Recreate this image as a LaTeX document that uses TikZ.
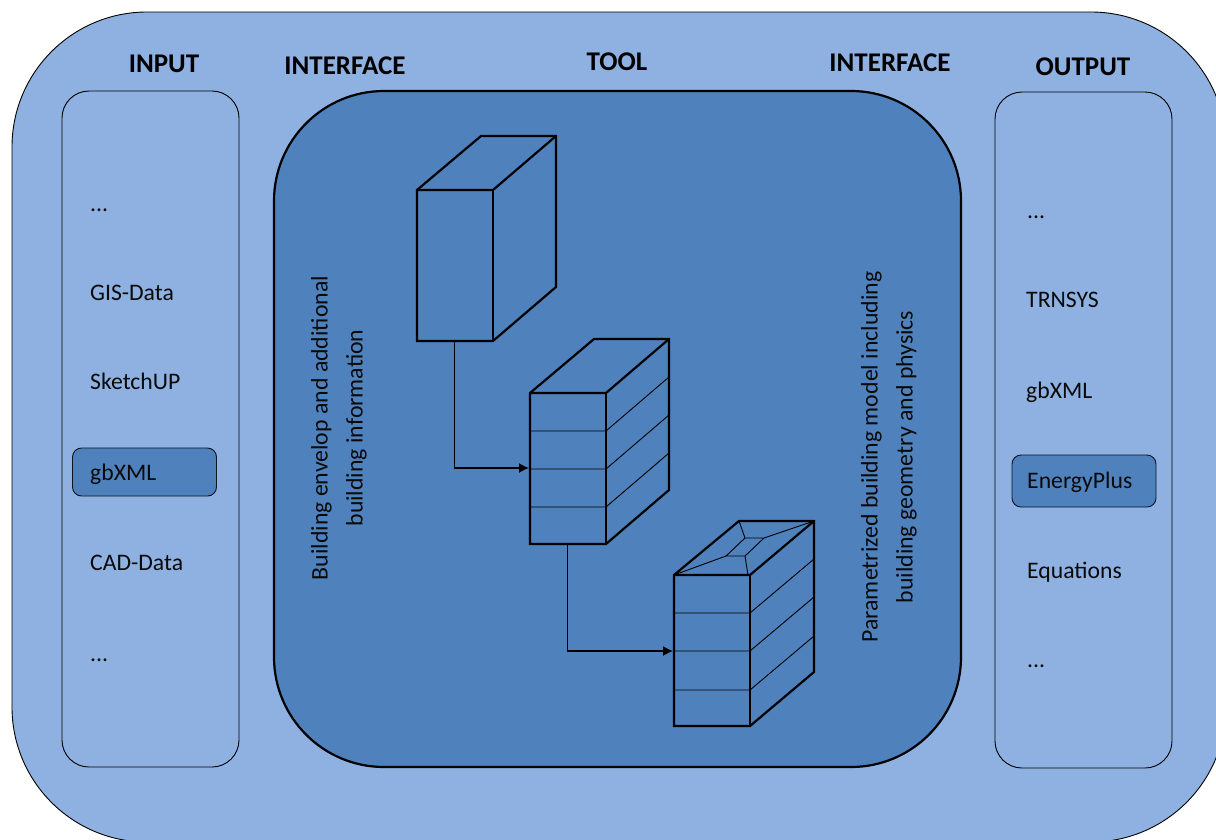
\documentclass[tikz,border=0pt]{standalone}
\usepackage{fontspec}
\setmainfont{Carlito}
\usetikzlibrary{arrows.meta}
\definecolor{lightb}{HTML}{8EB1E1}
\definecolor{darkb}{HTML}{4F81BD}
\definecolor{txtc}{HTML}{0A0A0A}
\newcommand\rrdraw[6]{% style, x0,y0,x1,y1,R
 \draw[#1] ({#2+#6},#3) -- ({#4-#6},#3)
  .. controls ({#4-0.4477*#6},#3) and (#4,{#3+0.4477*#6}) .. (#4,{#3+#6})
  -- (#4,{#5-#6})
  .. controls (#4,{#5-0.4477*#6}) and ({#4-0.4477*#6},#5) .. ({#4-#6},#5)
  -- ({#2+#6},#5)
  .. controls ({#2+0.4477*#6},#5) and (#2,{#5-0.4477*#6}) .. (#2,{#5-#6})
  -- (#2,{#3+#6})
  .. controls (#2,{#3+0.4477*#6}) and ({#2+0.4477*#6},#3) .. ({#2+#6},#3) -- cycle;}
\tikzset{x=1pt,y=-1pt,
 panel/.style={draw=black,line width=0.9pt,fill=lightb},
 toolpanel/.style={draw=black,line width=2.2pt,fill=darkb},
 hl/.style={draw=black!85!darkb,line width=0.9pt,fill=darkb,rounded corners=9pt},
 box/.style={draw=black,line width=2.2pt,fill=darkb,line join=miter},
 edge3d/.style={draw=black,line width=2.2pt,line join=miter},
 thin/.style={draw=black,line width=0.9pt},
 flow/.style={draw=black,line width=1.3pt,-{Latex[length=10pt,width=10pt]}},
 head/.style={font=\fontsize{27}{30}\selectfont\bfseries,inner sep=0pt,text=black},
 item/.style={font=\fontsize{23.7}{28}\selectfont,inner sep=0pt,anchor=west,text=txtc},
 vert/.style={font=\fontsize{23.8}{35}\selectfont,inner sep=0pt,rotate=90,align=center,text=txtc}}
\begin{document}
\begin{tikzpicture}
\useasboundingbox (0,0) rectangle (1216,839);
\fill[white] (0,0) rectangle (1216,839);
\begin{scope}
\clip (0,0) rectangle (1216,839);
\rrdraw{panel}{12}{12}{1226}{842}{135}
\end{scope}
\rrdraw{panel}{62}{91}{239}{767}{27}
\rrdraw{panel}{995}{92}{1172}{768}{27}
\rrdraw{toolpanel}{274}{91}{961}{767}{110}
\node[head] at (164,64) {INPUT};
\node[head] at (345,66) {INTERFACE};
\node[head] at (617,62) {TOOL};
\node[head] at (890,63) {INTERFACE};
\node[head] at (1083,67) {OUTPUT};
\node[item] (i1) at (90,210) {...};
\node[item] (i2) at (90,293) {GIS-Data};
\node[item] (i3) at (90,381) {SketchUP};
\node[hl,minimum width=144pt,minimum height=48pt] (h1) at (144.5,472) {};
\node[item] (i4) at (90,474) {gbXML};
\node[item] (i5) at (90,563) {CAD-Data};
\node[item] (i6) at (90,660) {...};
\node[item] (o1) at (1027,217) {...};
\node[item] (o2) at (1026,300) {TRNSYS};
\node[item] (o3) at (1026,392) {gbXML};
\node[hl,minimum width=144pt,minimum height=52pt] (h2) at (1084,481) {};
\node[item] (o4) at (1027,482) {EnergyPlus};
\node[item] (o5) at (1027,572) {Equations};
\node[item] (o6) at (1027,666) {...};
\node[vert] (v1) at (339,428) {Building envelop and additional\\building information};
\node[vert] (v2) at (889,457) {Parametrized building model including\\building geometry and physics};
% box 1
\draw[box] (417,190) -- (481,136) -- (556,136) -- (556,287) -- (493,341) -- (417,341) -- cycle;
\draw[edge3d] (417,190) -- (493,190) -- (556,136);
\draw[edge3d] (493,190) -- (493,341);
\coordinate (b1out) at (454.5,341);
% box 2
\draw[box] (530,393) -- (594,339) -- (669,339) -- (669,490) -- (606,544) -- (530,544) -- cycle;
\foreach \yy in {431,469,507}{
 \draw[thin] (530,\yy) -- (606,\yy) -- (669,\yy-54);
}
\draw[edge3d] (530,393) -- (606,393) -- (669,339);
\draw[edge3d] (606,393) -- (606,544);
\coordinate (b2in) at (529,468);
\coordinate (b2out) at (567.5,544);
% box 3
\draw[box] (674,575) -- (739,521) -- (814,521) -- (814,672) -- (750,726) -- (674,726) -- cycle;
\foreach \yy in {613,651,690}{
 \draw[thin] (674,\yy) -- (750,\yy) -- (814,\yy-54);
}
\draw[thin] (745,538) -- (764,538) -- (745,556) -- (726,556) -- cycle;
\draw[thin] (674,575) -- (726,556);
\draw[thin] (748,575) -- (745,556);
\draw[thin] (739,521) -- (745,538);
\draw[thin] (814,521) -- (764,538);
\draw[edge3d] (674,575) -- (750,575) -- (814,521);
\draw[edge3d] (750,575) -- (750,726);
\coordinate (b3in) at (673,651);
\draw[flow] (b1out) -- (454.5,468) -- (b2in);
\draw[flow] (b2out) -- (567.5,651) -- (b3in);
\end{tikzpicture}
\end{document}
